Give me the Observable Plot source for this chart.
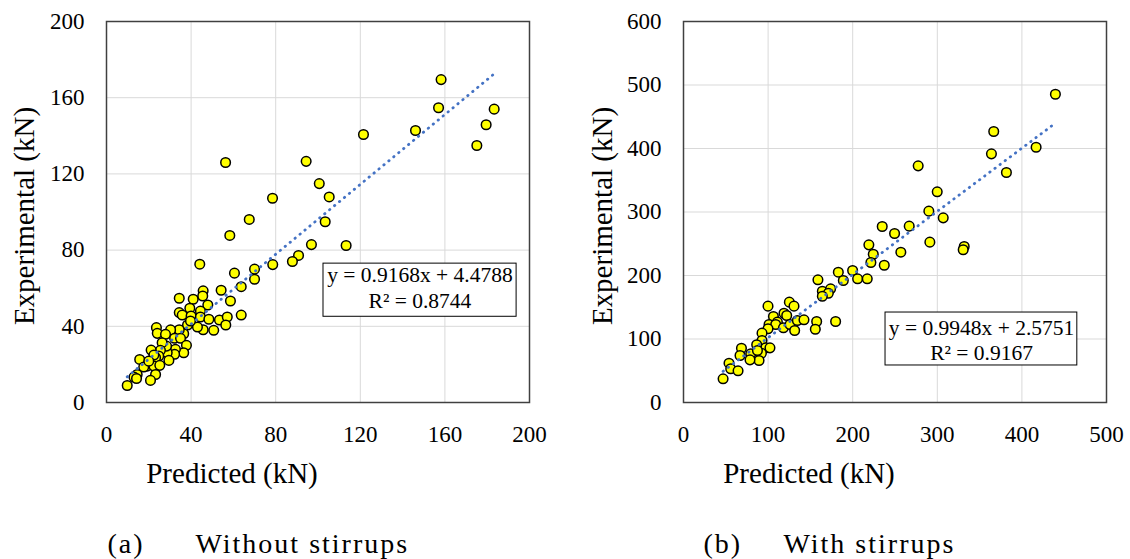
<!DOCTYPE html>
<html><head><meta charset="utf-8">
<script src="https://cdn.jsdelivr.net/npm/d3@7"></script>
<script src="https://cdn.jsdelivr.net/npm/@observablehq/plot@0.6"></script>
<style>
html,body{margin:0;padding:0;background:#fff;}
#wrap{display:flex;width:1130px;height:559px;overflow:hidden;}
#wrap svg, #wrap svg text, #wrap svg g{font-family:"Liberation Serif", serif !important;}
</style></head><body><div id="wrap"></div>
<script>
// ---- Panel (a): without stirrups ----
const predictedA = [158.2,157,183.3,179.5,175.1,146.1,121.5,56.3,94.4,100.6,105.3,78.5,67.5,58.3,103.4,96.9,113.3,90.8,87.9,78.6,44.1,70,60.5,70,
  63.7,45.7,54.2,58.6,63.7,34.4,41,45.5,47.9,44.4,39.4,34.4,35.8,40,44.4,48.4,53.4,57.1,56.4,50.7,45.7,43,38.3,39.7,36.5,34.4,30.3,23.6,24,27.9,32.2,35,37.8,36.5,32.6,32.2,28.7,28.4,26.3,25.5,24.7,29.5,23.2,21.1,22.4,15.7,19.2,17.6,22.4,25.2,20,23.2,14.5,13,14.2,20.8,9.8];
const experimentalA = [169.5,154.7,154,145.8,134.9,142.8,140.7,126,126.6,114.9,107.9,107.2,96.1,87.7,94.9,82.9,82.4,77.2,74,72.4,72.6,70,67.9,64.7,
  60.8,58.6,58.9,53.3,45.9,54.7,54.2,55.9,51.2,48,49.5,47.2,45.9,45.4,44.9,43.7,43.3,44.9,40.7,37.9,38.2,39.6,40.7,42.8,36.1,38.2,38.1,39.3,36.3,35.8,33.7,33.7,30,26.1,27.9,25.3,26.1,29.6,31.4,27.4,24.4,22.1,23.5,27.5,24.9,22.6,19.1,18.6,19.1,19.5,21.7,14.7,14.7,13.3,12.6,11.6,8.9];
const xTicksA = [0,40,80,120,160,200];
const yTicksA = [0,40,80,120,160,200];

// ---- Panel (b): with stirrups ----
const predictedB = [439.6,366.7,364,416.8,381.7,277.4,299.9,290,307,266.8,234.9,249.5,291.2,331.8,330.6,219.1,224.3,256.9,221.5,237.3,183,199.9,205.8,217.2,188.9,158.9,164.1,173.9,171.2,164.1,99.9,125.1,130.6,106.3,118.8,122,111,101.1,109,118.1,125.9,134.6,142.4,131.4,157.4,155.8,179.8,99.9,92.8,92.8,86.5,97.2,102.2,92.1,89.3,79.5,78.6,68.5,66.8,87.4,53.8,55.8,64.5,46.8];
const experimentalB = [485.5,426.8,391.6,402,362.2,372.7,331.8,301.3,290.8,277.7,277.2,266.1,252.5,245.7,240.5,248.3,233.5,236.7,220.5,216.2,205.2,207.9,194.8,194.8,192.1,193.2,175.3,179,172.1,167.4,151.7,158,151.7,135.4,140.6,137,126.5,122.8,122.8,117.6,122.8,129.1,130.2,113.4,127.6,115.4,127.6,116.1,109.2,97.6,90.9,86.1,86.1,77.6,66.1,76.7,67.2,85.5,74,81.9,61.9,53.1,49.9,37.3];
const xTicksB = [0,100,200,300,400,500];
const yTicksB = [0,100,200,300,400,500,600];

// ---- Trend lines and labels ----
const trendSlope = [0.9168, 0.9948];
const trendIntercept = [4.4788, 2.5751];
const equationLabels = ["y = 0.9168x + 4.4788", "y = 0.9948x + 2.5751"];
const r2Labels = ["R² = 0.8744", "R² = 0.9167"];
const panelLetters = ["(a)", "(b)"];
const panelCaptions = ["Without stirrups", "With stirrups"];
const xLabel = "Predicted (kN)";
const yLabel = "Experimental (kN)";

// layout (annotation box placement in data units, pixel offsets)
const layouts = [
  {width:565, marginLeft:106, marginRight:36, box:{x1:102.6,x2:193.9,y1:45,y2:72.9}, eq:{x:148.2,y1:67,y2:53.3}, yLabelDx:-82, letterDx:1, captionDx:89},
  {width:565, marginLeft:118, marginRight:24, box:{x1:238.8,x2:465.5,y1:58.3,y2:141.7}, eq:{x:352.3,y1:117.8,y2:78.5}, yLabelDx:-81, letterDx:20, captionDx:100}
];

const FONT = "Liberation Serif";

function panel(i, px, py, xTicks, yTicks) {
  const L = layouts[i];
  const pts = px.map((x, k) => ({x, y: py[k]}));
  const xmin = d3.min(px), xmax = d3.max(px);
  const trend = [xmin, xmax].map(x => ({x, y: trendSlope[i] * x + trendIntercept[i]}));
  const T = {fontFamily: FONT, fill: "#000"};
  const svg = Plot.plot({
    width: L.width, height: 559,
    marginLeft: L.marginLeft, marginRight: L.marginRight, marginTop: 21, marginBottom: 157,
    style: {fontFamily: FONT, fontSize: "23px", color: "#000", background: "#fff", overflow: "visible"},
    x: {domain: [xTicks[0], xTicks[xTicks.length - 1]]},
    y: {domain: [yTicks[0], yTicks[yTicks.length - 1]]},
    marks: [
      Plot.gridX(xTicks, {stroke: "#d9d9d9", strokeOpacity: 1, strokeWidth: 1}),
      Plot.gridY(yTicks, {stroke: "#d9d9d9", strokeOpacity: 1, strokeWidth: 1}),
      Plot.axisX(xTicks, {tickSize: 0, tickPadding: 23, label: null, fontSize: 23, fontFamily: FONT, tickFormat: d => String(d)}),
      Plot.axisY(yTicks, {tickSize: 0, tickPadding: 22, label: null, fontSize: 23, fontFamily: FONT, tickFormat: d => String(d)}),
      Plot.dot(pts, {x: "x", y: "y", r: 4.8, fill: "#ffff00", stroke: "#000", strokeWidth: 1.5}),
      Plot.line(trend, {x: "x", y: "y", stroke: "#4472c4", strokeWidth: 2.8, strokeDasharray: "0.4 6", strokeLinecap: "round"}),
      Plot.rect([0], {x1: L.box.x1, x2: L.box.x2, y1: L.box.y1, y2: L.box.y2, fill: "#fff", stroke: "#000", strokeWidth: 1}),
      Plot.text([equationLabels[i]], {...T, x: L.eq.x, y: L.eq.y1, text: d => d, fontSize: 21.5, textAnchor: "middle", lineAnchor: "middle"}),
      Plot.text([r2Labels[i]], {...T, x: L.eq.x, y: L.eq.y2, text: d => d, fontSize: 21.5, textAnchor: "middle", lineAnchor: "middle"}),
      Plot.frame({stroke: "#404040", strokeWidth: 1.5}),
      Plot.text([xLabel], {...T, text: d => d, frameAnchor: "bottom", dx: -86, dy: 80, lineAnchor: "bottom", textAnchor: "middle", fontSize: 29}),
      Plot.text([yLabel], {...T, text: d => d, frameAnchor: "left", dx: L.yLabelDx, dy: 4, rotate: -90, textAnchor: "middle", lineAnchor: "middle", fontSize: 29}),
      Plot.text([panelLetters[i]], {...T, text: d => d, frameAnchor: "bottom-left", dx: L.letterDx, dy: 150, textAnchor: "start", lineAnchor: "bottom", fontSize: 28, className: "cap"}),
      Plot.text([panelCaptions[i]], {...T, text: d => d, frameAnchor: "bottom-left", dx: L.captionDx, dy: 150, textAnchor: "start", lineAnchor: "bottom", fontSize: 28, className: "cap"})
    ]
  });
  d3.select(svg).selectAll(".cap text").style("letter-spacing", "2px");
  return svg;
}

const wrap = document.getElementById("wrap");
wrap.appendChild(panel(0, predictedA, experimentalA, xTicksA, yTicksA));
wrap.appendChild(panel(1, predictedB, experimentalB, xTicksB, yTicksB));
</script>
</body></html>
